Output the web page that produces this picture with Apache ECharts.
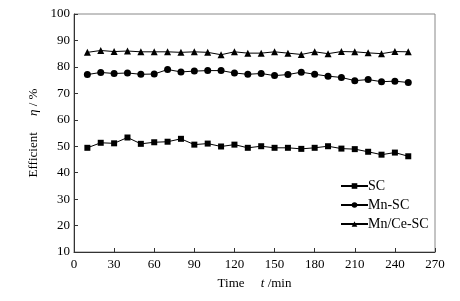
<!DOCTYPE html>
<html>
<head>
<meta charset="utf-8">
<script src="https://cdn.jsdelivr.net/npm/echarts@6/dist/echarts.min.js"></script>
<style>
  html, body { margin: 0; padding: 0; background: #fff; }
  #main { width: 460px; height: 301px; }
</style>
</head>
<body>
<div id="main"></div>
<script>
var times = [10, 20, 30, 40, 50, 60, 70, 80, 90, 100, 110, 120, 130,
  140, 150, 160, 170, 180, 190, 200, 210, 220, 230, 240, 250];
var sc = [49.4, 51.3, 51.1, 53.3, 50.9, 51.5, 51.7, 52.8, 50.6, 51.0, 49.9, 50.6, 49.4,
  50.0, 49.4, 49.4, 49.0, 49.4, 50.0, 49.1, 48.9, 47.9, 46.8, 47.6, 46.2];
var mnSc = [77.1, 77.9, 77.5, 77.7, 77.2, 77.3, 79.0, 78.1, 78.4, 78.6, 78.6, 77.7, 77.2,
  77.5, 76.7, 77.1, 78.0, 77.2, 76.5, 76.0, 74.8, 75.2, 74.4, 74.6, 74.1];
var mnCeSc = [85.5, 86.2, 85.8, 86.0, 85.7, 85.7, 85.7, 85.5, 85.7, 85.5, 84.6, 85.7, 85.2,
  85.2, 85.7, 85.2, 84.7, 85.7, 85.0, 85.8, 85.7, 85.3, 85.0, 85.8, 85.7];

var serif = '"Liberation Serif", "DejaVu Serif", serif';

function pairs(vals) {
  return times.map(function (t, i) { return [t, vals[i]]; });
}

function makeSeries(name, vals, symbol, size) {
  return {
    name: name,
    type: 'line',
    data: pairs(vals),
    symbol: symbol,
    symbolSize: size,
    showSymbol: true,
    lineStyle: { color: '#000', width: 1 },
    itemStyle: { color: '#000' },
    animation: false
  };
}

var nameRich = {
  it: { fontFamily: serif, fontSize: 13, fontStyle: 'italic', color: '#000' }
};

var chart = echarts.init(document.getElementById('main'));
chart.setOption({
  backgroundColor: '#fff',
  grid: {
    left: 74, right: 25, top: 14, bottom: 49,
    show: true, borderColor: '#888', borderWidth: 1
  },
  legend: {
    orient: 'vertical',
    left: 335, top: 174,
    itemWidth: 27, itemHeight: 7, itemGap: 5,
    textStyle: { fontFamily: serif, fontSize: 14, color: '#000', padding: [0, 0, 0, -5] },
    data: ['SC', 'Mn-SC', 'Mn/Ce-SC']
  },
  xAxis: {
    type: 'value',
    min: 0, max: 270, interval: 30,
    name: 'Time     {it|t} /min',
    nameLocation: 'middle',
    nameGap: 25,
    nameTextStyle: { fontFamily: serif, fontSize: 13, color: '#000', rich: nameRich },
    axisLine: { lineStyle: { color: '#333' } },
    axisTick: { inside: true, length: 4, lineStyle: { color: '#333' } },
    axisLabel: { fontFamily: serif, fontSize: 13, color: '#000', margin: 6 },
    splitLine: { show: false }
  },
  yAxis: {
    type: 'value',
    min: 10, max: 100, interval: 10,
    name: 'Efficient     {it|\u03B7} / %',
    nameLocation: 'middle',
    nameGap: 32,
    nameTextStyle: { fontFamily: serif, fontSize: 13, color: '#000', rich: nameRich },
    axisLine: { show: true, lineStyle: { color: '#333' } },
    axisTick: { show: true, inside: true, length: 4, lineStyle: { color: '#333' } },
    axisLabel: { fontFamily: serif, fontSize: 13, color: '#000', margin: 4 },
    splitLine: { show: false }
  },
  series: [
    makeSeries('SC', sc, 'rect', 6),
    makeSeries('Mn-SC', mnSc, 'circle', 7),
    makeSeries('Mn/Ce-SC', mnCeSc, 'triangle', 7)
  ]
});
</script>
</body>
</html>
